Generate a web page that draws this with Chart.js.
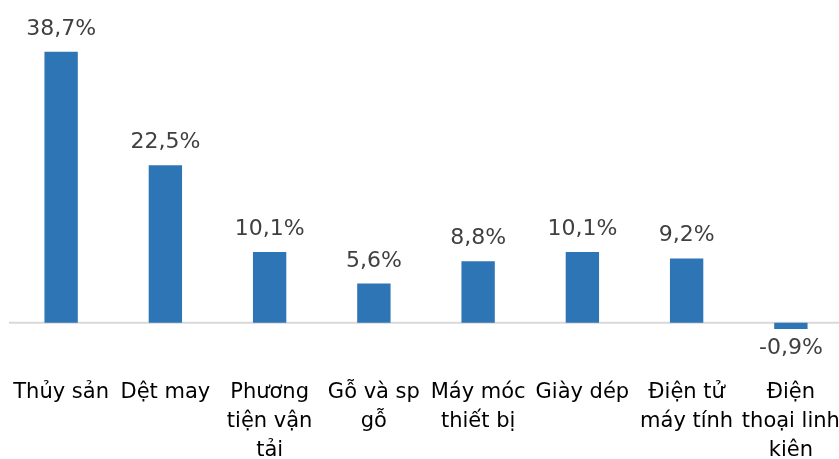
<!DOCTYPE html>
<html>
<head>
<meta charset="utf-8">
<script src="https://cdn.jsdelivr.net/npm/chart.js@4"></script>
<style>
  html, body { margin: 0; padding: 0; background: #fff; overflow: hidden; }
  #chart { position: absolute; left: 0; top: 0; width: 845px; height: 465px; }
</style>
</head>
<body>
<canvas id="chart" width="845" height="465"></canvas>
<script>
// categories (multi-line as in the picture)
const categories = [
  ['Thủy sản'],
  ['Dệt may'],
  ['Phương', 'tiện vận', 'tải'],
  ['Gỗ và sp', 'gỗ'],
  ['Máy móc', 'thiết bị'],
  ['Giày dép'],
  ['Điện tử', 'máy tính'],
  ['Điện', 'thoại linh', 'kiên']
];
const growth = [38.7, 22.5, 10.1, 5.6, 8.8, 10.1, 9.2, -0.9];

const fmt = (v) => v.toFixed(1).replace('.', ',') + '%';

// value labels above / below each bar
const valueLabels = {
  id: 'valueLabels',
  afterDatasetsDraw(chart) {
    const ctx = chart.ctx;
    const meta = chart.getDatasetMeta(0);
    ctx.save();
    ctx.font = '22px "DejaVu Sans"';
    ctx.fillStyle = '#404040';
    ctx.textAlign = 'center';
    ctx.textBaseline = 'alphabetic';
    meta.data.forEach((bar, i) => {
      const v = growth[i];
      const y = v >= 0 ? bar.y - 17 : bar.y + 25;
      ctx.fillText(fmt(v), bar.x, y);
    });
    ctx.restore();
  }
};

// gray zero line
const zeroLine = {
  id: 'zeroLine',
  beforeDatasetsDraw(chart) {
    const ctx = chart.ctx;
    const y = chart.scales.y.getPixelForValue(0);
    ctx.save();
    ctx.strokeStyle = '#d9d9d9';
    ctx.lineWidth = 2;
    ctx.beginPath();
    ctx.moveTo(chart.chartArea.left, y);
    ctx.lineTo(chart.width, y);
    ctx.stroke();
    ctx.restore();
  }
};

new Chart(document.getElementById('chart'), {
  type: 'bar',
  data: {
    labels: categories,
    datasets: [{
      data: growth,
      backgroundColor: '#2e75b6',
      borderWidth: 0,
      barPercentage: 0.32,
      categoryPercentage: 1
    }]
  },
  options: {
    responsive: false,
    animation: false,
    layout: { padding: { left: 9, right: 2, top: 0, bottom: 0 } },
    scales: {
      x: {
        grid: { display: false },
        border: { display: false },
        ticks: {
          color: '#000',
          padding: 0,
          maxRotation: 0,
          autoSkip: false,
          font: { family: '"DejaVu Sans"', size: 21, lineHeight: 1.38 }
        }
      },
      y: {
        display: false,
        min: -6.75,
        max: 46.1
      }
    },
    plugins: {
      legend: { display: false },
      tooltip: { enabled: false }
    }
  },
  plugins: [zeroLine, valueLabels]
});
</script>
</body>
</html>
